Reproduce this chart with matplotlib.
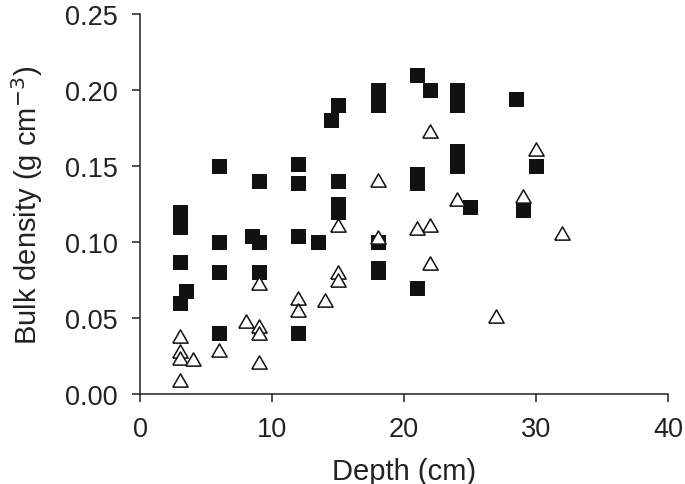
import matplotlib.pyplot as plt
from matplotlib.ticker import FormatStrFormatter

plt.rcParams['font.family'] = ['Liberation Sans', 'DejaVu Sans']

# filled squares
sq_depth = [3, 3, 3, 3.5, 3,
            6, 6, 6, 6,
            8.5, 9, 9, 9,
            12, 12, 12, 12,
            13.5,
            14.5, 15, 15, 15, 15,
            18, 18, 18, 18, 18,
            21, 21, 21, 21,
            22,
            24, 24, 24, 24,
            25, 28.5, 29, 30]
sq_density = [0.12, 0.11, 0.087, 0.068, 0.06,
              0.15, 0.10, 0.08, 0.04,
              0.104, 0.14, 0.10, 0.08,
              0.151, 0.139, 0.104, 0.04,
              0.10,
              0.18, 0.19, 0.14, 0.125, 0.12,
              0.20, 0.19, 0.10, 0.083, 0.08,
              0.21, 0.145, 0.139, 0.07,
              0.20,
              0.20, 0.19, 0.16, 0.15,
              0.123, 0.194, 0.121, 0.15]

# open triangles
tri_depth = [3, 3, 3, 3, 4,
             6,
             8, 9, 9, 9, 9,
             12, 12, 14,
             15, 15, 15,
             18, 18,
             21, 22, 22, 22,
             24, 27, 29, 30, 32]
tri_density = [0.038, 0.028, 0.024, 0.009, 0.023,
               0.029,
               0.048, 0.073, 0.045, 0.04, 0.021,
               0.063, 0.055, 0.062,
               0.111, 0.08, 0.075,
               0.141, 0.103,
               0.109, 0.173, 0.111, 0.086,
               0.128, 0.051, 0.13, 0.161, 0.106]

tri_marker = [(-1, -0.866), (1, -0.866), (0, 0.866), (-1, -0.866)]

fig = plt.figure(figsize=(6.85, 4.85), dpi=100)
ax = fig.add_axes([0.2044, 0.1856, 0.7708, 0.7835])

ax.plot(sq_depth, sq_density, linestyle='none', marker='s', markersize=10.8,
        color='#111111', markeredgewidth=0)
ax.plot(tri_depth, tri_density, linestyle='none', marker=tri_marker, markersize=11,
        markerfacecolor='white', markeredgecolor='#111111', markeredgewidth=1.1)

ax.set_xlim(0, 40)
ax.set_ylim(0, 0.25)
ax.set_xticks([0, 10, 20, 30, 40])
ax.set_yticks([0, 0.05, 0.10, 0.15, 0.20, 0.25])
ax.yaxis.set_major_formatter(FormatStrFormatter('%.2f'))

ax.spines['top'].set_visible(False)
ax.spines['right'].set_visible(False)
for s in ['left', 'bottom']:
    ax.spines[s].set_linewidth(1.1)
    ax.spines[s].set_color('#222222')

ax.tick_params(direction='out', length=6, width=1.1, color='#222222',
               labelsize=19.5, labelcolor='#222222', pad=10)

ax.set_xlabel('Depth (cm)', fontsize=21, color='#222222', labelpad=11)
ax.set_ylabel('Bulk density (g cm$^{-3}$)', fontsize=21, color='#222222', labelpad=14)

fig.savefig('out.png', dpi=100)
